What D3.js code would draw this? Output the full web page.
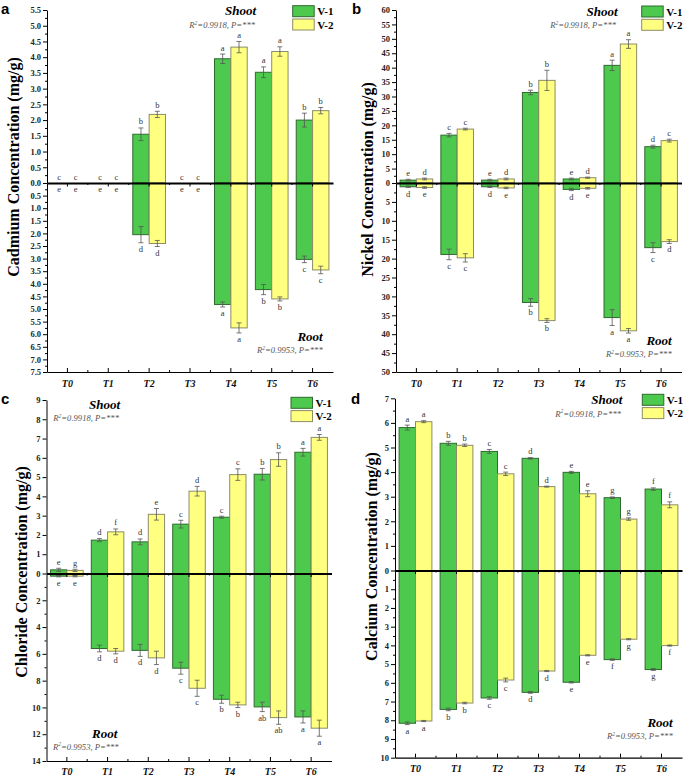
<!DOCTYPE html>
<html><head><meta charset="utf-8">
<script src="https://cdn.jsdelivr.net/npm/d3@7"></script>
<style>body{margin:0;background:#fff}svg{display:block}</style>
</head><body><svg id="c" width="685" height="776"></svg>
<script>
// ---------- DATA ----------
const categories = ["T0","T1","T2","T3","T4","T5","T6"];
const seriesNames = ["V-1","V-2"];
const shootStat = "0.9918";
const rootStat = "0.9953";

// (a) Cadmium
const cdShootV1 = [0,0,1.55,0,3.95,3.52,2.0];
const cdShootV2 = [0,0,2.18,0,4.32,4.18,2.3];
const cdShootErrV1 = [0,0,0.2,0,0.15,0.17,0.22];
const cdShootErrV2 = [0,0,0.1,0,0.18,0.15,0.1];
const cdShootLetV1 = ["c","c","b","c","a","a","b"];
const cdShootLetV2 = ["c","c","b","c","a","a","b"];
const cdRootV1 = [0,0,2.05,0,4.82,4.23,3.03];
const cdRootV2 = [0,0,2.4,0,5.75,4.6,3.45];
const cdRootErrV1 = [0,0,0.32,0,0.1,0.2,0.13];
const cdRootErrV2 = [0,0,0.12,0,0.2,0.08,0.15];
const cdRootLetV1 = ["e","e","d","e","a","b","c"];
const cdRootLetV2 = ["e","e","d","e","a","b","c"];
const cdShootTicks = [0,0.5,1,1.5,2,2.5,3,3.5,4,4.5,5,5.5];
const cdRootTicks = [0.5,1,1.5,2,2.5,3,3.5,4,4.5,5,5.5,6,6.5,7,7.5];

// (b) Nickel
const niShootV1 = [1.0,16.6,1.0,31.4,1.4,40.8,12.6];
const niShootV2 = [1.4,18.7,1.4,35.6,1.85,48.2,14.7];
const niShootErrV1 = [0.3,0.6,0.3,0.8,0.3,1.8,0.5];
const niShootErrV2 = [0.3,0.3,0.3,3.5,0.2,1.5,0.5];
const niShootLetV1 = ["e","c","e","b","e","a","d"];
const niShootLetV2 = ["d","c","d","b","d","a","c"];
const niRootV1 = [1.0,18.9,1.0,31.6,1.7,35.6,17.1];
const niRootV2 = [1.2,19.8,1.3,36.4,1.4,39.1,15.5];
const niRootErrV1 = [0.2,1.4,0.2,1.0,0.3,2.1,1.3];
const niRootErrV2 = [0.2,1.1,0.2,0.5,0.2,0.6,0.5];
const niRootLetV1 = ["d","c","d","b","d","a","c"];
const niRootLetV2 = ["e","c","e","b","e","a","d"];
const niShootTicks = [0,5,10,15,20,25,30,35,40,45,50,55,60];
const niRootTicks = [5,10,15,20,25,30,35,40,45,50];

// (c) Chloride
const clShootV1 = [0.19,1.73,1.64,2.56,2.92,5.15,6.29];
const clShootV2 = [0.16,2.16,3.07,4.27,5.13,5.91,7.06];
const clShootErrV1 = [0.08,0.08,0.15,0.2,0.05,0.3,0.2];
const clShootErrV2 = [0.06,0.15,0.3,0.25,0.3,0.35,0.15];
const clShootLetV1 = ["e","d","d","c","c","b","a"];
const clShootLetV2 = ["g","f","e","d","c","b","a"];
const clRootV1 = [0.2,5.6,5.74,7.07,9.39,9.96,10.71];
const clRootV2 = [0.2,5.8,6.3,8.57,9.81,10.76,11.55];
const clRootErrV1 = [0.05,0.25,0.45,0.45,0.3,0.35,0.45];
const clRootErrV2 = [0.05,0.2,0.5,0.6,0.2,0.5,0.6];
const clRootLetV1 = ["e","d","d","c","b","ab","a"];
const clRootLetV2 = ["e","d","d","c","b","ab","a"];
const clShootTicks = [0,1,2,3,4,5,6,7,8,9];
const clRootTicks = [2,4,6,8,10,12,14];

// (d) Calcium
const caShootV1 = [5.81,5.17,4.84,4.56,3.99,2.96,3.31];
const caShootV2 = [6.05,5.09,3.93,3.41,3.12,2.09,2.67];
const caShootErrV1 = [0.1,0.08,0.08,0.03,0.04,0.03,0.05];
const caShootErrV2 = [0.04,0.05,0.07,0.02,0.12,0.05,0.12];
const caShootLetV1 = ["a","b","c","d","e","g","f"];
const caShootLetV2 = ["a","b","c","d","e","g","f"];
const caRootV1 = [8.16,7.42,6.81,6.51,5.97,4.76,5.29];
const caRootV2 = [8.04,7.08,5.85,5.37,4.53,3.67,4.01];
const caRootErrV1 = [0.07,0.07,0.07,0.05,0.04,0.04,0.05];
const caRootErrV2 = [0.03,0.04,0.1,0.03,0.03,0.03,0.03];
const caRootLetV1 = ["a","b","c","d","e","f","g"];
const caRootLetV2 = ["a","b","c","d","e","g","f"];
const caShootTicks = [0,1,2,3,4,5,6,7];
const caRootTicks = [1,2,3,4,5,6,7,8,9,10];

// ---------- DRAW ----------
const svg = d3.select("#c");
const serif = "'Liberation Serif','Times New Roman',serif";
const sans = "'Liberation Sans',Arial,sans-serif";
const fills = ["#4dc94d","#ffff80"];
const strokes = ["#2f6a2f","#8c8c6a"];

const panels = [
  {letter:"a", lp:[1,14], title:"Cadmium Concentration (mg/g)", tx:13.5, ty:167,
   x0:47, x1:333, yTop:10, yZero:183, yBottom:372, shootMax:5.5, rootMax:7.5, fmt:d3.format(".1f"),
   shootTicks:cdShootTicks, rootTicks:cdRootTicks, minorStep:0.25,
   shoot:[cdShootV1,cdShootV2], shootErr:[cdShootErrV1,cdShootErrV2], shootLet:[cdShootLetV1,cdShootLetV2],
   root:[cdRootV1,cdRootV2], rootErr:[cdRootErrV1,cdRootErrV2], rootLet:[cdRootLetV1,cdRootLetV2],
   leg:[292.7,5.7], sh:{x:256,y:15,a:"end"}, shs:{x:255,y:28}, rt:{x:322.7,y:341,a:"end"}, rts:{x:322.7,y:353}, xl:386.5},
  {letter:"b", lp:[352,14], title:"Nickel Concentration (mg/g)", tx:367, ty:179.5,
   x0:396, x1:681.5, yTop:10, yZero:183, yBottom:372, shootMax:60, rootMax:50, fmt:d3.format("d"),
   shootTicks:niShootTicks, rootTicks:niRootTicks, minorStep:2.5,
   shoot:[niShootV1,niShootV2], shootErr:[niShootErrV1,niShootErrV2], shootLet:[niShootLetV1,niShootLetV2],
   root:[niRootV1,niRootV2], rootErr:[niRootErrV1,niRootErrV2], rootLet:[niRootLetV1,niRootLetV2],
   leg:[641.7,6], sh:{x:617.7,y:15.5,a:"end"}, shs:{x:616,y:28}, rt:{x:671.7,y:345,a:"end"}, rts:{x:671.7,y:357}, xl:386.5},
  {letter:"c", lp:[1,404], title:"Chloride Concentration (mg/g)", tx:21, ty:572,
   x0:46.5, x1:331.5, yTop:400, yZero:573.5, yBottom:761, shootMax:9, rootMax:14, fmt:d3.format("d"),
   shootTicks:clShootTicks, rootTicks:clRootTicks, minorStep:1, minorStepRoot:1,
   shoot:[clShootV1,clShootV2], shootErr:[clShootErrV1,clShootErrV2], shootLet:[clShootLetV1,clShootLetV2],
   root:[clRootV1,clRootV2], rootErr:[clRootErrV1,clRootErrV2], rootLet:[clRootLetV1,clRootLetV2],
   leg:[291,397.3], sh:{x:89,y:408.5,a:"start"}, shs:{x:53.3,y:421,a:"start"}, rt:{x:92,y:738,a:"start"}, rts:{x:53,y:749.5,a:"start"}, xl:775},
  {letter:"d", lp:[351,404], title:"Calcium Concentration (mg/g)", tx:371, ty:556.5,
   x0:395, x1:682, yTop:398.3, yZero:570.5, yBottom:757.7, shootMax:7, rootMax:10, fmt:d3.format("d"),
   shootTicks:caShootTicks, rootTicks:caRootTicks, minorStep:0.5,
   shoot:[caShootV1,caShootV2], shootErr:[caShootErrV1,caShootErrV2], shootLet:[caShootLetV1,caShootLetV2],
   root:[caRootV1,caRootV2], rootErr:[caRootErrV1,caRootErrV2], rootLet:[caRootLetV1,caRootLetV2],
   leg:[642.3,394.3], sh:{x:622.3,y:403.5,a:"end"}, shs:{x:621,y:416.5}, rt:{x:672.7,y:727,a:"end"}, rts:{x:672.7,y:739}, xl:772}
];

function statText(g, pos, val){
  const t = g.append("text").attr("x",pos.x).attr("y",pos.y)
    .attr("text-anchor", pos.a || "end")
    .attr("font-family",serif).attr("font-style","italic").attr("font-size",8.6).attr("fill","#555");
  t.append("tspan").text("R");
  t.append("tspan").attr("font-size",5.5).attr("dy",-3.5).text("2");
  t.append("tspan").attr("dy",3.5).text("=" + val + ", P=***");
}

function drawPanel(p){
  const g = svg.append("g");
  const x = d3.scaleBand().domain(categories).range([p.x0,p.x1]).paddingInner(0.2).paddingOuter(0.1);
  const xs = d3.scaleBand().domain(seriesNames).range([0,x.bandwidth()]);
  const yS = d3.scaleLinear().domain([0,p.shootMax]).range([p.yZero,p.yTop]);
  const yR = d3.scaleLinear().domain([0,p.rootMax]).range([p.yZero,p.yBottom]);

  // bars
  seriesNames.forEach((s,si)=>{
    const sd = categories.map((c,i)=>({c, v:p.shoot[si][i], e:p.shootErr[si][i], l:p.shootLet[si][i]}));
    const rd = categories.map((c,i)=>({c, v:p.root[si][i], e:p.rootErr[si][i], l:p.rootLet[si][i]}));
    g.selectAll(null).data(sd.filter(d=>d.v>0)).join("rect")
      .attr("x",d=>x(d.c)+xs(s)).attr("width",xs.bandwidth())
      .attr("y",d=>yS(d.v)).attr("height",d=>p.yZero-yS(d.v))
      .attr("fill",fills[si]).attr("stroke",strokes[si]).attr("stroke-width",1);
    g.selectAll(null).data(rd.filter(d=>d.v>0)).join("rect")
      .attr("x",d=>x(d.c)+xs(s)).attr("width",xs.bandwidth())
      .attr("y",p.yZero).attr("height",d=>yR(d.v)-p.yZero)
      .attr("fill",fills[si]).attr("stroke",strokes[si]).attr("stroke-width",1);
    // error bars
    const cx = d=>x(d.c)+xs(s)+xs.bandwidth()/2;
    const eb = (data, y)=>{
      const ge = g.append("g").attr("stroke","#555").attr("stroke-width",0.8);
      data.filter(d=>d.e>0).forEach(d=>{
        const xc = cx(d), y1 = y(d.v-d.e), y2 = y(d.v+d.e);
        ge.append("line").attr("x1",xc).attr("x2",xc).attr("y1",y1).attr("y2",y2);
        ge.append("line").attr("x1",xc-2.5).attr("x2",xc+2.5).attr("y1",y1).attr("y2",y1);
        ge.append("line").attr("x1",xc-2.5).attr("x2",xc+2.5).attr("y1",y2).attr("y2",y2);
      });
    };
    eb(sd, yS); eb(rd, yR);
    // letters
    g.selectAll(null).data(sd).join("text")
      .attr("x",cx).attr("y",d=>yS(d.v+d.e)-3.5).attr("text-anchor","middle")
      .attr("font-family",serif).attr("font-size",8.5).attr("fill","#333").text(d=>d.l);
    g.selectAll(null).data(rd).join("text")
      .attr("x",cx).attr("y",d=>yR(d.v+d.e)+9).attr("text-anchor","middle")
      .attr("font-family",serif).attr("font-size",8.5).attr("fill","#333").text(d=>d.l);
  });

  // y axes
  const styleAxis = a => {
    a.selectAll("text").attr("font-family",serif).attr("font-weight","bold").attr("font-size",8.5).attr("fill","#222");
    a.selectAll("line").attr("stroke","#000");
    a.select(".domain").attr("stroke","#000");
  };
  const ms = p.minorStep;
  const minorS = d3.range(0, p.shootMax + 1e-9, ms).filter(v=>!p.shootTicks.some(t=>Math.abs(t-v)<1e-9));
  const minorR = d3.range(ms, p.rootMax + 1e-9, ms).filter(v=>!p.rootTicks.some(t=>Math.abs(t-v)<1e-9));
  g.append("g").attr("transform",`translate(${p.x0},0)`)
    .call(d3.axisLeft(yS).tickValues(minorS).tickSize(2).tickSizeOuter(0).tickFormat(""))
    .call(a=>{a.select(".domain").remove(); a.selectAll("line").attr("stroke","#000");});
  g.append("g").attr("transform",`translate(${p.x0},0)`)
    .call(d3.axisLeft(yR).tickValues(minorR).tickSize(2).tickSizeOuter(0).tickFormat(""))
    .call(a=>{a.select(".domain").remove(); a.selectAll("line").attr("stroke","#000");});
  g.append("g").attr("transform",`translate(${p.x0},0)`)
    .call(d3.axisLeft(yS).tickValues(p.shootTicks).tickSize(4).tickSizeOuter(0).tickPadding(2).tickFormat(p.fmt))
    .call(styleAxis);
  g.append("g").attr("transform",`translate(${p.x0},0)`)
    .call(d3.axisLeft(yR).tickValues(p.rootTicks).tickSize(4).tickSizeOuter(0).tickPadding(2).tickFormat(p.fmt))
    .call(styleAxis);

  // x axes: zero line and bottom
  const bounds = d3.range(1, categories.length).map(i=>p.x0 + x.step()*i);
  const xBot = d3.axisTop(x).tickSize(4).tickSizeOuter(0).tickFormat("");
  g.append("g").attr("transform",`translate(0,${p.yBottom})`).call(xBot)
    .call(a=>{a.selectAll("line").attr("stroke","#000"); a.select(".domain").attr("stroke","#000").attr("stroke-width",1.2);});
  const xZero = d3.axisBottom(x).tickSize(3.5).tickSizeOuter(0).tickFormat("");
  g.append("g").attr("transform",`translate(0,${p.yZero})`).call(xZero)
    .call(a=>{a.selectAll("line").attr("stroke","#000"); a.select(".domain").attr("stroke","#000").attr("stroke-width",1.8);});
  bounds.forEach(bx=>{
    g.append("line").attr("x1",bx).attr("x2",bx).attr("y1",p.yBottom).attr("y2",p.yBottom-2).attr("stroke","#000");
    g.append("line").attr("x1",bx).attr("x2",bx).attr("y1",p.yZero).attr("y2",p.yZero+2).attr("stroke","#000");
  });
  // x labels
  g.selectAll(null).data(categories).join("text")
    .attr("x",c=>x(c)+x.bandwidth()/2).attr("y",p.xl).attr("text-anchor","middle")
    .attr("font-family",serif).attr("font-weight","bold").attr("font-style","italic").attr("font-size",10)
    .attr("fill","#111").text(c=>c);

  // y title
  g.append("text").attr("transform",`translate(${p.tx},${p.ty}) rotate(-90)`)
    .attr("text-anchor","middle").attr("dominant-baseline","central")
    .attr("font-family",serif).attr("font-weight","bold").attr("font-size",16).attr("fill","#000").text(p.title);

  // panel letter
  g.append("text").attr("x",p.lp[0]).attr("y",p.lp[1]).attr("font-family",sans).attr("font-weight","bold")
    .attr("font-size",15).attr("fill","#000").text(p.letter);

  // Shoot / Root labels
  g.append("text").attr("x",p.sh.x).attr("y",p.sh.y).attr("text-anchor",p.sh.a)
    .attr("font-family",serif).attr("font-weight","bold").attr("font-style","italic").attr("font-size",13).text("Shoot");
  statText(g, p.shs, shootStat);
  g.append("text").attr("x",p.rt.x).attr("y",p.rt.y).attr("text-anchor",p.rt.a)
    .attr("font-family",serif).attr("font-weight","bold").attr("font-style","italic").attr("font-size",13).text("Root");
  statText(g, p.rts, rootStat);

  // legend
  seriesNames.forEach((s,si)=>{
    const ly = p.leg[1] + si*13.3;
    g.append("rect").attr("x",p.leg[0]).attr("y",ly).attr("width",21.5).attr("height",11)
      .attr("fill",fills[si]).attr("stroke",strokes[si]).attr("stroke-width",1);
    g.append("text").attr("x",p.leg[0]+24.5).attr("y",ly+9.5)
      .attr("font-family",serif).attr("font-weight","bold").attr("font-size",11).text(s);
  });
}
panels.forEach(drawPanel);
</script></body></html>
